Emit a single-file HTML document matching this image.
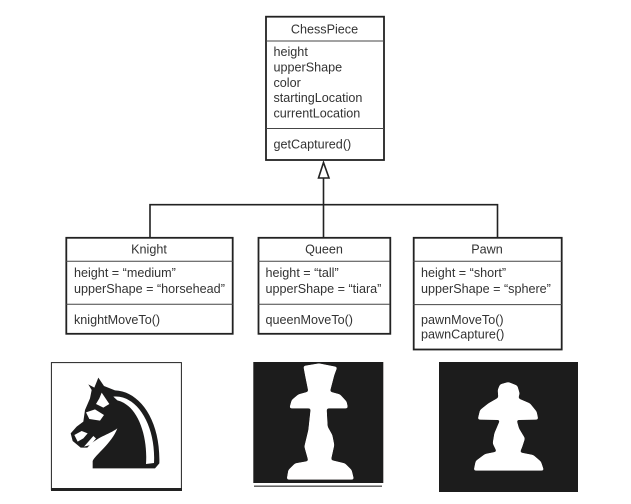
<!DOCTYPE html>
<html>
<head>
<meta charset="utf-8">
<style>
html,body{margin:0;padding:0;background:#fff;width:631px;height:504px;overflow:hidden}
svg{display:block}
text{font-family:"Liberation Sans",sans-serif;font-size:12.6px;fill:#333}
.c{text-anchor:middle}
.b{fill:#fff;stroke:#222;stroke-width:1.8}
.d{stroke:#444;stroke-width:1;fill:none}
.l{stroke:#222;stroke-width:1.6;fill:none}
</style>
</head>
<body>
<svg width="631" height="504" viewBox="0 0 631 504" xmlns="http://www.w3.org/2000/svg">
<defs>
<filter id="s" x="-5%" y="-5%" width="110%" height="110%"><feGaussianBlur stdDeviation="0.35"/></filter>
<filter id="r" x="-10%" y="-10%" width="120%" height="120%" color-interpolation-filters="sRGB">
<feGaussianBlur stdDeviation="3.5"/>
<feComponentTransfer><feFuncA type="linear" slope="7" intercept="-3"/></feComponentTransfer>
</filter>
</defs>
<g filter="url(#s)">
<!-- connectors -->
<path class="l" d="M323.5 178V237M150 237V204.7H497.5V237"/>
<path d="M323.5 162.5L329 178H318.5Z" fill="#fff" stroke="#222" stroke-width="1.6"/>

<!-- ChessPiece -->
<rect class="b" x="266" y="16.7" width="118" height="143.3"/>
<path class="d" d="M266 41H384M266 128.5H384"/>
<text class="c" x="324.5" y="33.5">ChessPiece</text>
<text x="273.5" y="56">height</text>
<text x="273.5" y="71.5">upperShape</text>
<text x="273.5" y="87">color</text>
<text x="273.5" y="102">startingLocation</text>
<text x="273.5" y="117.5">currentLocation</text>
<text x="273.5" y="148.5">getCaptured()</text>

<!-- Knight -->
<rect class="b" x="66.3" y="237.8" width="166.4" height="96"/>
<path class="d" d="M66 261.3H233M66 304.3H233"/>
<text class="c" x="149" y="253.5">Knight</text>
<text x="74" y="277">height = “medium”</text>
<text x="74" y="293">upperShape = “horsehead”</text>
<text x="74" y="324">knightMoveTo()</text>

<!-- Queen -->
<rect class="b" x="258.5" y="237.8" width="131.8" height="96"/>
<path class="d" d="M258 261.3H390M258 304.3H390"/>
<text class="c" x="324" y="253.5">Queen</text>
<text x="265.5" y="277">height = “tall”</text>
<text x="265.5" y="293">upperShape = “tiara”</text>
<text x="265.5" y="324">queenMoveTo()</text>

<!-- Pawn -->
<rect class="b" x="413.7" y="237.8" width="148" height="111.7"/>
<path class="d" d="M413 261.3H562M413 304.6H562"/>
<text class="c" x="487" y="253.5">Pawn</text>
<text x="421" y="277">height = “short”</text>
<text x="421" y="293">upperShape = “sphere”</text>
<text x="421" y="324">pawnMoveTo()</text>
<text x="421" y="338.5">pawnCapture()</text>

<!-- Knight image -->
<rect x="51.4" y="362.6" width="130" height="127" fill="#fff" stroke="#222" stroke-width="1"/>
<rect x="51" y="488" width="131" height="3" fill="#222"/>
<g transform="translate(40 355) scale(.33333)">
<path fill="#1d1a1a" d="M145 88L163 98L175 68L192 93L225 106C295 108 362 190 358 325L345 340H158V318C165 300 215 265 232 220C205 240 170 245 142 278H122L98 258L92 235L110 215L130 200L135 165L150 130L155 105Z"/>
<path fill="#fff" d="M220 125C290 118 348 210 342 324L318 327C324 240 292 150 232 136Z"/>
<path fill="#fff" d="M185 113L208 147L190 158L168 147L178 130Z"/>
<path fill="#fff" d="M138 172L165 163L192 180L180 197L148 192Z"/>
<path fill="#fff" d="M103 240L125 228L143 235L130 250L113 260Z"/>
<path fill="#fff" d="M132 275L160 243L168 250L152 270Z"/>
</g>

<!-- Queen image -->
<rect x="253.3" y="362" width="130" height="121" fill="#1d1a1a"/>
<rect x="254" y="485.5" width="128" height="1.4" fill="#555"/>
<g transform="translate(245 355) scale(.33333)">
<path filter="url(#r)" fill="#fff" d="M175 33L222 25L277 36L268 60L255 110L285 118L305 140L309 160L245 160L248 215L262 240L268 270L258 315L300 325L320 345L327 374H125L130 345L150 325L190 318L178 275L190 225L197 160H133L140 135L160 118L190 110L180 60Z"/>
</g>

<!-- Pawn image -->
<rect x="439" y="362" width="139" height="130" fill="#1d1a1a"/>
<g transform="translate(435 355) scale(.33333)">
<path filter="url(#r)" fill="#fff" d="M188 105L195 88L220 81L247 92L254 115L250 130L285 145L305 170L310 194L245 195L252 220L270 250L262 275L255 292L295 300L318 320L327 347H116L122 318L150 297L185 290L173 265L178 235L195 195L128 194L135 165L160 145L190 128Z"/>
</g>
</g>
</svg>
</body>
</html>
